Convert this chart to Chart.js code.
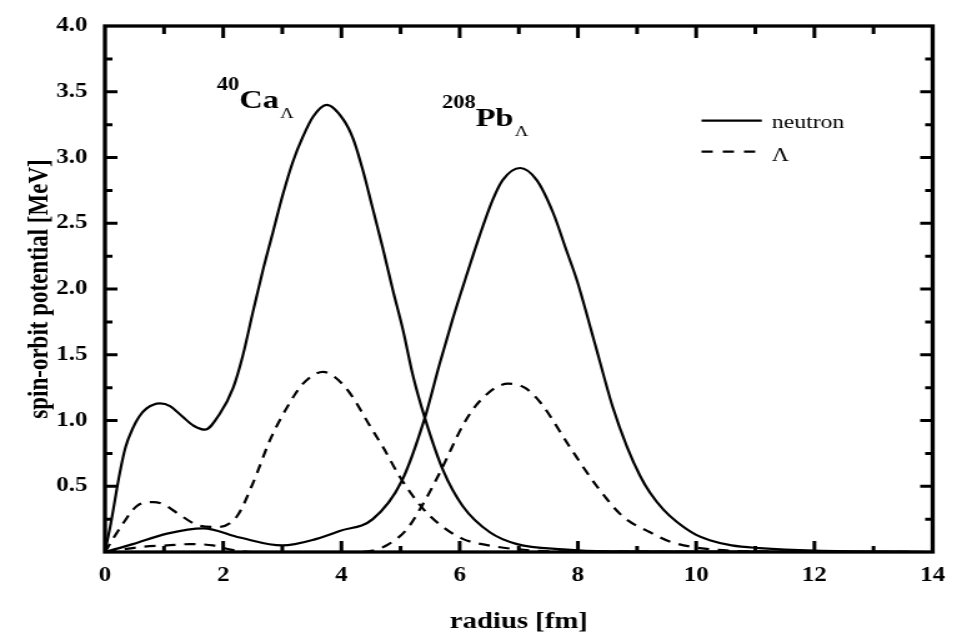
<!DOCTYPE html>
<html>

<head>
    <meta charset="utf-8">
    <script src="https://cdn.jsdelivr.net/npm/chart.js@4.4.1/dist/chart.umd.min.js"></script>
    <style>
        html,
        body {
            margin: 0;
            padding: 0;
            background: #fff;
        }

        #chart {
            display: block;
        }
    </style>
</head>

<body>
    <!-- the original figure is stretched sideways, so the canvas is too -->
    <canvas id="chart" width="782" height="644" style="width: 977px; height: 644px;"></canvas>
    <script>
        // 40Ca_Lambda, neutron (solid)
        const caNeutronR = [0, 0.1, 0.25, 0.35, 0.47, 0.58, 0.7, 0.93, 1.1, 1.31, 1.5, 1.69, 1.94, 2.17, 2.33, 2.5, 2.67, 2.84, 3.01, 3.18, 3.35, 3.52, 3.75, 4.03, 4.2, 4.37, 4.53, 4.70, 4.87, 5.04, 5.21, 5.41, 5.72, 6.05, 6.51, 6.97, 7.75, 8.5, 14];
        const caNeutronV = [0, 0.22, 0.60, 0.80, 0.94, 1.03, 1.09, 1.13, 1.11, 1.03, 0.96, 0.93, 1.05, 1.25, 1.49, 1.82, 2.14, 2.43, 2.72, 2.97, 3.16, 3.31, 3.40, 3.29, 3.14, 2.89, 2.61, 2.31, 1.99, 1.69, 1.34, 1.02, 0.62, 0.35, 0.15, 0.06, 0.02, 0.005, 0];

        // 40Ca_Lambda, Lambda (dashed)
        const caLambdaR = [0, 0.15, 0.31, 0.54, 0.82, 1.0, 1.21, 1.6, 1.9, 2.23, 2.5, 2.79, 3.08, 3.35, 3.69, 3.86, 4.14, 4.48, 4.70, 4.99, 5.36, 5.66, 6.05, 6.63, 7.0, 7.6, 14];
        const caLambdaV = [0, 0.11, 0.22, 0.35, 0.38, 0.36, 0.30, 0.20, 0.19, 0.27, 0.52, 0.85, 1.10, 1.28, 1.37, 1.34, 1.21, 0.96, 0.80, 0.57, 0.34, 0.21, 0.10, 0.04, 0.02, 0.005, 0];

        // 208Pb_Lambda, neutron (solid)
        const pbNeutronR = [0, 0.47, 1.05, 1.66, 2.28, 3.0, 3.58, 3.97, 4.53, 5.02, 5.41, 5.66, 5.88, 6.12, 6.34, 6.56, 6.73, 7.02, 7.30, 7.58, 7.80, 7.98, 8.29, 8.59, 8.83, 9.05, 9.22, 9.45, 9.67, 10.0, 10.23, 10.6, 11.07, 12, 14];
        const pbNeutronV = [0, 0.06, 0.14, 0.18, 0.11, 0.05, 0.10, 0.16, 0.25, 0.54, 1.02, 1.43, 1.77, 2.11, 2.41, 2.68, 2.83, 2.92, 2.83, 2.58, 2.30, 2.07, 1.58, 1.10, 0.80, 0.58, 0.45, 0.32, 0.23, 0.13, 0.09, 0.05, 0.03, 0.01, 0];

        // 208Pb_Lambda, Lambda (dashed)
        const pbLambdaR = [0, 0.65, 1.05, 1.44, 1.83, 2.1, 2.5, 4.2, 4.53, 4.8, 5.1, 5.36, 5.66, 6.05, 6.25, 6.46, 6.65, 6.82, 7.1, 7.36, 7.86, 8.32, 8.76, 9.22, 9.55, 10.06, 11, 14];
        const pbLambdaV = [0, 0.04, 0.05, 0.06, 0.05, 0.02, 0, 0, 0.01, 0.06, 0.17, 0.35, 0.60, 0.96, 1.10, 1.20, 1.26, 1.28, 1.25, 1.14, 0.80, 0.50, 0.27, 0.15, 0.08, 0.03, 0.005, 0];

        const xTicks = [0, 2, 4, 6, 8, 10, 12, 14];
        const yTicks = ['', '0.5', '1.0', '1.5', '2.0', '2.5', '3.0', '3.5', '4.0'];

        const serif = 'Liberation Serif';
        const dash = [9, 7];

        function pts(r, v) {
            return r.map((x, i) => ({ x: x, y: v[i] }));
        }

        function line(label, r, v, dashed) {
            return {
                label: label,
                data: pts(r, v),
                borderColor: '#000',
                borderWidth: 2.2,
                borderDash: dashed ? dash : [],
                pointRadius: 0,
                fill: false,
                cubicInterpolationMode: 'monotone'
            };
        }

        // frame, inward ticks, nuclide labels and the little legend
        const decorations = {
            id: 'decorations',
            afterDraw(chart) {
                const ctx = chart.ctx;
                const a = chart.chartArea;
                const x = chart.scales.x;
                const y = chart.scales.y;
                ctx.save();
                ctx.strokeStyle = '#000';
                ctx.fillStyle = '#000';

                ctx.lineWidth = 3;
                ctx.beginPath();
                for (let i = 1; i < 14; i++) {
                    const px = x.getPixelForValue(i);
                    const len = i % 2 == 0 ? 11 : 6;
                    ctx.moveTo(px, a.bottom); ctx.lineTo(px, a.bottom - len);
                    ctx.moveTo(px, a.top); ctx.lineTo(px, a.top + (i % 2 == 0 ? 12 : 8));
                }
                for (let i = 1; i < 16; i++) {
                    const py = y.getPixelForValue(i * 0.25);
                    const len = i % 2 == 0 ? 10 : 6;
                    ctx.moveTo(a.left, py); ctx.lineTo(a.left + len, py);
                    ctx.moveTo(a.right, py); ctx.lineTo(a.right - len, py);
                }
                ctx.stroke();

                ctx.lineWidth = 3.3;
                ctx.strokeRect(a.left, a.top, a.right - a.left, a.bottom - a.top);

                // nuclide labels
                function nuclide(sup, main, r, v) {
                    let px = x.getPixelForValue(r);
                    const py = y.getPixelForValue(v);
                    ctx.textBaseline = 'alphabetic';
                    ctx.textAlign = 'left';
                    ctx.font = 'bold 18px "' + serif + '"';
                    ctx.fillText(sup, px, py - 18);
                    px += ctx.measureText(sup).width;
                    ctx.font = 'bold 26px "' + serif + '"';
                    ctx.fillText(main, px, py);
                    px += ctx.measureText(main).width + 1;
                    ctx.font = '15px "' + serif + '"';
                    ctx.fillText('Λ', px, py + 10);
                }
                nuclide('40', 'Ca', 1.89, 3.38);
                nuclide('208', 'Pb', 5.70, 3.24);

                // legend
                const lx0 = x.getPixelForValue(10.09);
                const lx1 = x.getPixelForValue(11.11);
                const tx = x.getPixelForValue(11.28);
                const ly0 = y.getPixelForValue(3.28);
                const ly1 = y.getPixelForValue(3.045);
                ctx.lineWidth = 2.2;
                ctx.beginPath();
                ctx.moveTo(lx0, ly0); ctx.lineTo(lx1, ly0);
                ctx.stroke();
                ctx.setLineDash([9, 8]);
                ctx.beginPath();
                ctx.moveTo(lx0, ly1); ctx.lineTo(lx1, ly1);
                ctx.stroke();
                ctx.setLineDash([]);
                ctx.font = '19px "' + serif + '"';
                ctx.fillText('neutron', tx, ly0 + 7);
                ctx.fillText('Λ', tx, ly1 + 9);

                ctx.restore();
            }
        };

        Chart.defaults.font.family = serif;
        Chart.defaults.color = '#000';

        new Chart(document.getElementById('chart').getContext('2d'), {
            type: 'line',
            data: {
                datasets: [
                    line('neutron', caNeutronR, caNeutronV, false),
                    line('Λ', caLambdaR, caLambdaV, true),
                    line('neutron', pbNeutronR, pbNeutronV, false),
                    line('Λ', pbLambdaR, pbLambdaV, true)
                ]
            },
            options: {
                responsive: false,
                animation: false,
                devicePixelRatio: 1,
                layout: {
                    padding: { left: 0, right: 35.5, top: 21, bottom: 0 }
                },
                plugins: {
                    legend: { display: false },
                    tooltip: { enabled: false }
                },
                scales: {
                    x: {
                        type: 'linear',
                        min: 0,
                        max: 14,
                        afterBuildTicks: s => { s.ticks = xTicks.map(v => ({ value: v })); },
                        afterFit: s => { s.height = 92; },
                        grid: { display: false, drawTicks: false },
                        border: { display: false },
                        ticks: {
                            padding: 12,
                            maxRotation: 0,
                            autoSkip: false,
                            font: { size: 20, weight: 'bold' },
                            callback: v => String(v)
                        },
                        title: {
                            display: true,
                            text: 'radius [fm]',
                            font: { size: 23, weight: 'bold' },
                            padding: { top: 0, bottom: 8 }
                        }
                    },
                    y: {
                        type: 'linear',
                        min: 0,
                        max: 4,
                        afterBuildTicks: s => { s.ticks = yTicks.map((t, i) => ({ value: i * 0.5 })); },
                        afterFit: s => { s.width = 84; },
                        grid: { display: false, drawTicks: false },
                        border: { display: false },
                        ticks: {
                            padding: 14,
                            autoSkip: false,
                            font: { size: 20, weight: 'bold' },
                            callback: (v, i) => yTicks[i]
                        },
                        title: {
                            display: true,
                            text: 'spin-orbit potential [MeV]',
                            font: { size: 23, weight: 'bold' },
                            padding: { top: 18, bottom: 0 }
                        }
                    }
                }
            },
            plugins: [decorations]
        });
    </script>
</body>

</html>
